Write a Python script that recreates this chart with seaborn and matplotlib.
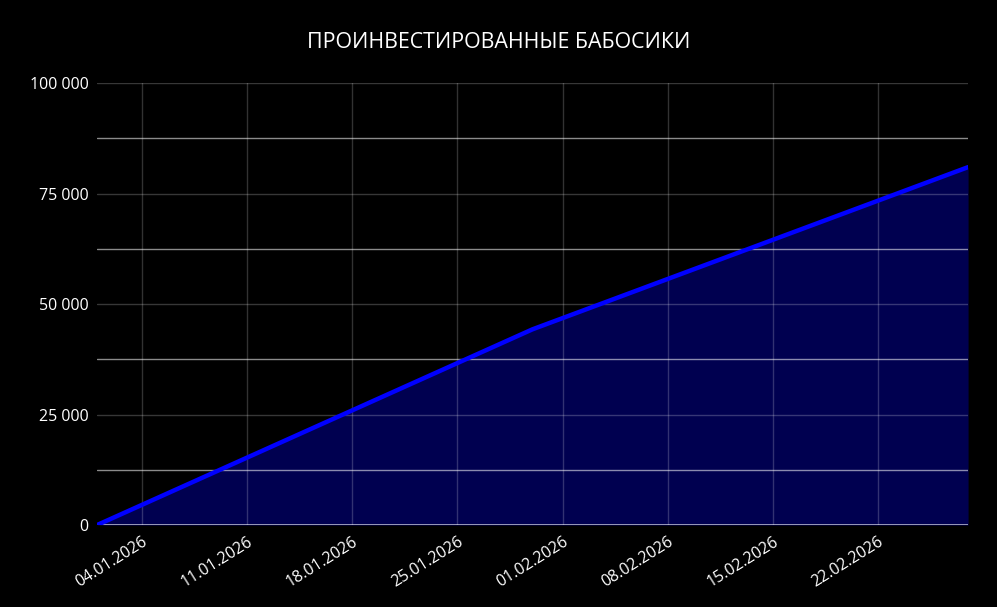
import numpy as np
import pandas as pd
import seaborn as sns
import matplotlib.dates as mdates
from matplotlib import pyplot as plt
from matplotlib.ticker import FuncFormatter, MultipleLocator

dates = ['2026-01-01', '2026-01-30', '2026-02-28']
invested = [0, 44300, 81000]
tick_dates = ['2026-01-04', '2026-01-11', '2026-01-18', '2026-01-25',
              '2026-02-01', '2026-02-08', '2026-02-15', '2026-02-22']
title = 'ПРОИНВЕСТИРОВАННЫЕ БАБОСИКИ'

df = pd.DataFrame({'date': pd.to_datetime(dates), 'value': invested})

sns.set_style('dark')
plt.rcParams['font.family'] = ['Open Sans', 'DejaVu Sans']

fig = plt.figure(figsize=(9.97, 6.07), dpi=100, facecolor='black')
ax = fig.add_axes([0.0973, 0.135, 0.8737, 0.728])
ax.set_facecolor('black')

ax.fill_between(df['date'], df['value'], 0, color='#000050', zorder=1, linewidth=0)
sns.lineplot(data=df, x='date', y='value', ax=ax, color='#0000ff', linewidth=3.2, zorder=3)

ax.set_xlim(pd.Timestamp('2026-01-01'), pd.Timestamp('2026-02-28'))
ax.set_ylim(0, 100000)

# grid: vertical at date ticks, horizontal at every 12 500
ax.set_xticks(pd.to_datetime(tick_dates))
ax.xaxis.set_major_formatter(mdates.DateFormatter('%d.%m.%Y'))
ax.yaxis.set_major_locator(MultipleLocator(25000))
ax.yaxis.set_major_formatter(FuncFormatter(lambda v, p: f'{int(v):,}'.replace(',', ' ')))
ax.grid(False)
for x in pd.to_datetime(tick_dates):
    ax.axvline(x, color='white', alpha=0.2, linewidth=1, zorder=2)
for y in np.arange(25000, 100001, 25000):
    ax.axhline(y, color='white', alpha=0.22, linewidth=1, zorder=2)
for y in np.arange(12500, 100000, 25000):
    ax.axhline(y, color='white', alpha=0.55, linewidth=1, zorder=2)
ax.axhline(0, color='white', alpha=0.7, linewidth=1.2, zorder=2)

for s in ax.spines.values():
    s.set_visible(False)

ax.tick_params(axis='both', length=0, colors='white', labelsize=11.5)
ax.tick_params(axis='y', pad=6)
ax.tick_params(axis='x', pad=6)
plt.setp(ax.get_xticklabels(), rotation=32, ha='right', rotation_mode='anchor')
ax.set_xlabel('')
ax.set_ylabel('')

fig.text(0.5, 0.93, title, color='white', fontsize=15.4, ha='center', va='center')

plt.savefig('out.png', dpi=100, facecolor='black')
